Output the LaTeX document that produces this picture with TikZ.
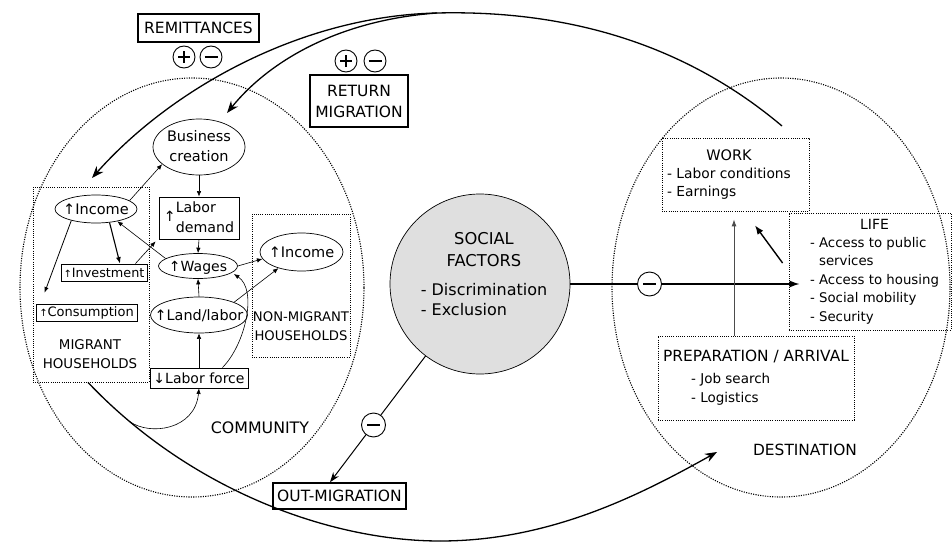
\documentclass[tikz,border=0pt]{standalone}
\usepackage{fontspec}
\setmainfont{DejaVu Sans}
\usetikzlibrary{shapes.geometric,arrows.meta}
\newcommand\fs[2]{\fontsize{#1}{#2}\selectfont}
\newcommand\zl[1]{\makebox[0pt]{\smash{\raisebox{-0.36em}{#1}}}}
\newcommand\zt[1]{\makebox[0pt]{\smash{\raisebox{-0.25em}{\begin{tabular}{@{}c@{}}#1\end{tabular}}}}}
\tikzset{
  bigell/.style={ellipse, draw, line width=1.1pt, dash pattern=on 1.1pt off 1.3pt, inner sep=0},
  dotbox/.style={rectangle, draw, line width=0.8pt, dash pattern=on 0.9pt off 1.3pt, inner sep=0},
  sbox/.style={rectangle, draw, line width=0.8pt, inner sep=1pt},
  hbox/.style={rectangle, draw, line width=1.5pt, inner sep=0},
  iell/.style={ellipse, draw, line width=0.7pt, inner sep=0},
  tarrow/.style={-{Latex[length=5.5pt,width=4.5pt]}, line width=0.6pt},
  marrow/.style={-{Latex[length=6.5pt,width=5pt]}, line width=1.1pt},
  bigline/.style={line width=1.3pt},
  barrow/.style={-{Stealth[length=12pt,width=9pt]}, line width=1.3pt},
  pmbase/.style={circle, draw, line width=0.9pt, inner sep=0, fill=white},
  pmplus/.style={pmbase, minimum size=22pt, path picture={\draw[line width=1.7pt] ([xshift=-6pt]path picture bounding box.center) -- ([xshift=6pt]path picture bounding box.center) ([yshift=-6pt]path picture bounding box.center) -- ([yshift=6pt]path picture bounding box.center);}},
  pmminus/.style={pmbase, minimum size=#1, path picture={\draw[line width=2.3pt] ([xshift=-6.5pt]path picture bounding box.center) -- ([xshift=6.5pt]path picture bounding box.center);}},
  pmminus/.default=22pt,
}
\begin{document}
\begin{tikzpicture}[x=1pt,y=-1pt]
\useasboundingbox (0,0) rectangle (952,543);
% regions
\node[bigell, minimum width=344pt, minimum height=419pt] (comm) at (192,287.5) {};
\node[bigell, minimum width=338pt, minimum height=419pt] (dest) at (781,287.5) {};
\node[font={\fs{15.8}{19}}] (commlbl) at (260,428) {COMMUNITY};
\node[font={\fs{15.4}{18}}] (destlbl) at (805,450) {DESTINATION};
% social factors
\node[circle, draw, line width=0.7pt, fill=gray!25, minimum size=180pt, inner sep=0] (sf) at (480,284) {};
\node[inner sep=0] (sftxt) at (484,276) {\fs{16}{20}\begin{tabular}{@{}l@{}}\multicolumn{1}{c}{\fs{16.3}{20}SOCIAL}\\[2pt]\multicolumn{1}{c}{\fs{16.3}{20}FACTORS}\\[9pt]- Discrimination\\- Exclusion\end{tabular}};
% top labels
\node[hbox, minimum width=121pt, minimum height=28pt, font={\fs{15.5}{19}}] (remit) at (198.5,28) {REMITTANCES};
\node[pmplus] (rplus) at (184,57) {};
\node[pmminus] (rminus) at (211,57) {};
\node[hbox, minimum width=98pt, minimum height=52pt, align=center, font={\fs{15.5}{21}}] (ret) at (359,101) {RETURN\\MIGRATION};
\node[pmplus] (tplus) at (346,61) {};
\node[pmminus] (tminus) at (375,61) {};
\node[hbox, minimum width=133pt, minimum height=26pt, font={\fs{15.5}{19}}] (outm) at (339.5,496) {OUT-MIGRATION};
% community inner
\node[dotbox, minimum width=116pt, minimum height=195pt] (mh) at (91,284.5) {};
\node[font={\fs{13.4}{19}}, align=center] (mhlbl) at (90,354.5) {MIGRANT\\HOUSEHOLDS};
\node[dotbox, minimum width=98pt, minimum height=143pt] (nmh) at (301,285.5) {};
\node[font={\fs{13.2}{19}}, align=center] (nmhlbl) at (301,326.5) {NON-MIGRANT\\HOUSEHOLDS};
\node[iell, minimum width=92pt, minimum height=56pt, font={\fs{14.5}{20}}] (bc) at (199,147) {\zt{Business\\creation}};
\node[iell, minimum width=82pt, minimum height=28pt, font={\fs{14.5}{18}}] (inc1) at (96,209) {\zl{↑Income}};
\node[sbox, minimum width=80pt, minimum height=42pt, font={\fs{14.2}{20}}] (labd) at (199,218) {↑\begin{tabular}{@{}l@{}}Labor\\demand\end{tabular}};
\node[iell, minimum width=79pt, minimum height=25pt, font={\fs{14}{18}}] (wages) at (198,266) {\zl{↑Wages}};
\node[iell, minimum width=97pt, minimum height=36pt, font={\fs{14.4}{18}}] (land) at (199,315) {\zl{↑Land/labor}};
\node[sbox, minimum width=98pt, minimum height=20pt, font={\fs{14}{18}}] (labf) at (199,378) {↓Labor force};
\node[sbox, minimum width=86pt, minimum height=17pt, font={\fs{12.8}{16}}] (inv) at (104,272.5) {{\fs{10}{10}↑}Investment};
\node[sbox, minimum width=101pt, minimum height=17pt, font={\fs{13}{16}}] (cons) at (86.5,312.5) {{\fs{10}{10}↑}Consumption};
\node[iell, minimum width=83pt, minimum height=38pt, font={\fs{14.5}{18}}] (inc2) at (301.5,252) {\zl{↑Income}};
% destination boxes
\node[dotbox, minimum width=147pt, minimum height=73pt] (work) at (735.5,174.5) {\fs{13.8}{18}\begin{tabular}{@{}l@{}}\multicolumn{1}{c}{\fs{14.5}{18}WORK}\\- Labor conditions\\- Earnings\end{tabular}\hspace*{13pt}};
\node[dotbox, minimum width=162pt, minimum height=117pt] (life) at (870,271.5) {\hspace*{9pt}\fs{13.3}{18.4}\begin{tabular}{@{}l@{}}\multicolumn{1}{c}{\fs{14}{18.4}LIFE}\\- Access to public\\\hspace*{9pt}services\\- Access to housing\\- Social mobility\\- Security\end{tabular}};
\node[dotbox, minimum width=196pt, minimum height=84pt] (prep) at (756,378) {\fs{13.5}{19}\begin{tabular}{@{}l@{}}{\fs{15.4}{19}PREPARATION / ARRIVAL}\\[3pt]\hspace*{28pt}- Job search\\\hspace*{28pt}- Logistics\end{tabular}};
% community connectors
\draw[tarrow] (inc1.14) -- (bc.205);
\draw[tarrow] (bc.south) -- (labd.north);
\draw[tarrow] (labd.south) -- (wages.north);
\draw[tarrow] (wages.167) -- (inc1.-30);
\draw[tarrow] ([xshift=-12pt]inv.north east) -- ([shift={(-3pt,-2pt)}]labd.south west);
\draw[marrow] (inc1.-45) -- ([xshift=16pt]inv.north);
\draw[tarrow, line width=0.8pt] (inc1.-155) -- ([shift={(9pt,11pt)}]cons.north west);
\draw[tarrow] (land.north) -- (wages.south);
\draw[tarrow] (labf.north) -- (land.south);
\draw[tarrow] (wages.east) -- (inc2.190);
\draw[tarrow] (land.20) -- (inc2.215);
\draw[tarrow] ([xshift=-26pt]labf.north east) .. controls (245,345) and (258,290) .. ([shift={(-4pt,-8pt)}]wages.east);
% remittances and return migration
\coordinate (rs) at (782,126);
\coordinate (rtop) at (437,13);
\coordinate (remitend) at (92,178);
\coordinate (retend) at (227,113);
\draw[bigline] (rs) .. controls (680,40) and (560,10) .. (rtop);
\draw[barrow] (rtop) .. controls (300,16) and (170,90) .. (remitend);
\draw[barrow] (rtop) .. controls (340,20) and (270,60) .. (retend);
% out-migration
\coordinate (omend) at (717,452);
\coordinate (ombot) at (440,541);
\draw[bigline] ([xshift=-3pt]mh.south) .. controls (190,490) and (330,541) .. (ombot) coordinate[pos=0.13] (lfs);
\draw[barrow] (ombot) .. controls (550,541) and (640,495) .. (omend);
\draw[tarrow] (lfs) .. controls (150,436) and (195,430) .. (labf.south);
% social connectors
\path (life.west |- sf.east) coordinate (lifeW);
\draw[-{Latex[length=10pt,width=7pt]}, line width=1.3pt] (sf.east) -- ([xshift=11pt]lifeW);
\draw[-{Stealth[length=10pt,width=7pt]}, line width=1pt] (sf) -- ([xshift=-9.5pt]outm.north);
\node[pmminus=24pt] (sfm1) at (649.5,284) {};
\node[pmminus=24pt] (sfm2) at (373.5,425) {};
% destination connectors
\draw[-{Latex[length=7pt,width=5pt]}, line width=0.9pt, gray!60!black] ([xshift=-22pt]prep.north) -- ([shift={(-1.5pt,-8pt)}]work.south);
\draw[-{Latex[length=9pt,width=7pt]}, line width=1.4pt] ([shift={(-6pt,8.5pt)}]life.west) -- ([shift={(19.5pt,-14pt)}]work.south);
\end{tikzpicture}
\end{document}
